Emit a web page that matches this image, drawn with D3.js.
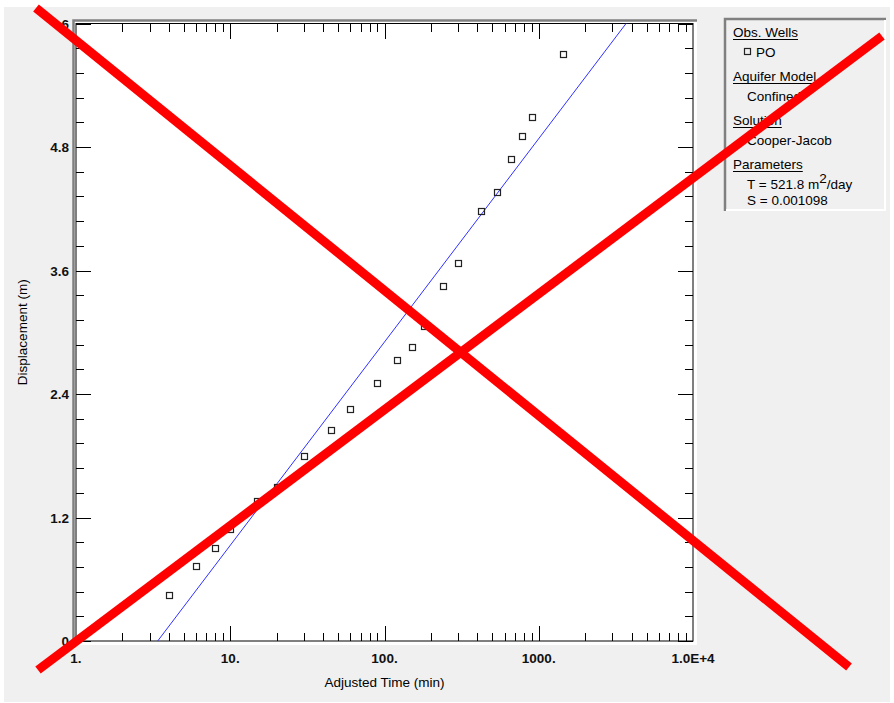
<!DOCTYPE html>
<html>
<head>
<meta charset="utf-8">
<script src="https://cdn.jsdelivr.net/npm/d3@7"></script>
<style>
  html, body { margin: 0; padding: 0; background: #ffffff; }
  svg { display: block; font-family: "Liberation Sans", Arial, sans-serif; }
</style>
</head>
<body>
<svg id="chart" width="894" height="703"></svg>
<script>
// Observation well PO: elapsed time (min) and displacement (m)
const times = [4, 6, 8, 10, 15, 20, 30, 45, 60, 90, 120, 150, 180, 240, 300, 420, 540, 660, 780, 900, 1440];
const displacement = [0.45, 0.73, 0.90, 1.09, 1.36, 1.50, 1.80, 2.05, 2.25, 2.51, 2.73, 2.86, 3.06, 3.45, 3.67, 4.18, 4.36, 4.68, 4.91, 5.09, 5.70];

// Cooper-Jacob straight-line fit: zero-displacement intercept (min) and slope (m per log cycle)
const fitT0 = 3.385;
const fitSlope = 1.976;

// Axis ticks
const xMajorTicks = [1, 10, 100, 1000, 10000];
const xTickLabels = ["1.", "10.", "100.", "1000.", "1.0E+4"];
const yMajorTicks = [0, 1.2, 2.4, 3.6, 4.8, 6];
const yTickLabels = ["0", "1.2", "2.4", "3.6", "4.8", "6"];
const yMinorStep = 0.24;

// Legend panel
const legendSections = [
  { title: "Obs. Wells", lines: [] , marker: "PO" },
  { title: "Aquifer Model", lines: ["Confined"] },
  { title: "Solution", lines: ["Cooper-Jacob"] },
  { title: "Parameters", lines: ["T = 521.8 m|2|/day", "S = 0.001098"] }
];

const svg = d3.select("#chart");
const W = 894, H = 703;
const plot = { left: 76, right: 693, top: 23.5, bottom: 641 };

const x = d3.scaleLog().domain([1, 10000]).range([plot.left, plot.right]);
const y = d3.scaleLinear().domain([0, 6]).range([plot.bottom, plot.top]);

// Window background
svg.append("rect").attr("x", 4).attr("y", 7).attr("width", 886).attr("height", 695).attr("fill", "#f0f0f0");

// Sunken plot frame
svg.append("rect").attr("x", 73).attr("y", 20).attr("width", 624).attr("height", 625).attr("fill", "#ffffff");
svg.append("path").attr("d", `M${73.5},${645} V${20.5} H${697}`).attr("fill", "none").attr("stroke", "#808080").attr("stroke-width", 2.5);
svg.append("rect").attr("x", plot.left).attr("y", plot.top).attr("width", plot.right - plot.left).attr("height", plot.bottom - plot.top)
  .attr("fill", "#ffffff").attr("stroke", "#000").attr("stroke-width", 1);

const ticks = svg.append("g").attr("stroke", "#000").attr("stroke-width", 1).attr("shape-rendering", "crispEdges");
const majorLen = 15, minorLen = 8;

// Log x ticks (bottom and top)
const xMinor = [];
for (let d = 1; d < 10000; d *= 10) for (let k = 2; k <= 9; k++) xMinor.push(d * k);
xMinor.forEach(v => {
  const px = Math.round(x(v)) + 0.5;
  ticks.append("line").attr("x1", px).attr("x2", px).attr("y1", plot.bottom).attr("y2", plot.bottom - minorLen);
  ticks.append("line").attr("x1", px).attr("x2", px).attr("y1", plot.top).attr("y2", plot.top + minorLen);
});
xMajorTicks.slice(1, -1).forEach(v => {
  const px = Math.round(x(v)) + 0.5;
  ticks.append("line").attr("x1", px).attr("x2", px).attr("y1", plot.bottom).attr("y2", plot.bottom - majorLen);
  ticks.append("line").attr("x1", px).attr("x2", px).attr("y1", plot.top).attr("y2", plot.top + majorLen);
});

// Linear y ticks (left and right)
const yMinor = d3.range(0, 6 + 1e-9, yMinorStep);
yMinor.forEach(v => {
  const py = Math.round(y(v)) + 0.5;
  const isMajor = yMajorTicks.some(m => Math.abs(m - v) < 1e-6);
  const len = isMajor ? majorLen : minorLen;
  ticks.append("line").attr("x1", plot.left).attr("x2", plot.left + len).attr("y1", py).attr("y2", py);
  ticks.append("line").attr("x1", plot.right).attr("x2", plot.right - len).attr("y1", py).attr("y2", py);
});

// Tick labels
const labelFont = 13.5;
xMajorTicks.forEach((v, i) => {
  svg.append("text").attr("x", x(v)).attr("y", 663).attr("text-anchor", "middle")
    .attr("font-size", labelFont).attr("font-weight", "bold").attr("fill", "#111").text(xTickLabels[i]);
});
yMajorTicks.forEach((v, i) => {
  svg.append("text").attr("x", 69).attr("y", y(v) + 5).attr("text-anchor", "end")
    .attr("font-size", labelFont).attr("font-weight", "bold").attr("fill", "#111").text(yTickLabels[i]);
});

// Axis titles
svg.append("text").attr("x", (plot.left + plot.right) / 2).attr("y", 687).attr("text-anchor", "middle")
  .attr("font-size", labelFont).attr("fill", "#000").text("Adjusted Time (min)");
svg.append("text").attr("transform", `translate(27,${(plot.top + plot.bottom) / 2}) rotate(-90)`)
  .attr("text-anchor", "middle").attr("font-size", labelFont).attr("fill", "#000").text("Displacement (m)");

// Clip for the fitted line
svg.append("clipPath").attr("id", "plotClip").append("rect")
  .attr("x", plot.left).attr("y", plot.top).attr("width", plot.right - plot.left).attr("height", plot.bottom - plot.top);

const fitAt = t => fitSlope * Math.log10(t / fitT0);
const fitTimes = [fitT0, fitT0 * Math.pow(10, 6.2 / fitSlope)];
svg.append("path").attr("clip-path", "url(#plotClip)")
  .attr("d", d3.line().x(t => x(t)).y(t => y(fitAt(t)))(fitTimes))
  .attr("fill", "none").attr("stroke", "#3030ff").attr("stroke-width", 1);

// Observed data
const sq = 6;
svg.append("g").selectAll("rect").data(times).join("rect")
  .attr("x", (t) => Math.round(x(t) - sq / 2) + 0.5)
  .attr("y", (t, i) => Math.round(y(displacement[i]) - sq / 2) + 0.5)
  .attr("width", sq).attr("height", sq)
  .attr("fill", "none").attr("stroke", "#222").attr("stroke-width", 1.2);

// Legend panel
const lg = { x: 724, y: 18, w: 162, h: 193 };
svg.append("rect").attr("x", lg.x).attr("y", lg.y).attr("width", lg.w).attr("height", lg.h).attr("fill", "#f0f0f0");
svg.append("path").attr("d", `M${lg.x + 1},${lg.y + lg.h} V${lg.y + 1} H${lg.x + lg.w}`)
  .attr("fill", "none").attr("stroke", "#808080").attr("stroke-width", 2.5);
svg.append("path").attr("d", `M${lg.x + 2},${lg.y + lg.h - 1} H${lg.x + lg.w - 1} V${lg.y + 2}`)
  .attr("fill", "none").attr("stroke", "#ffffff").attr("stroke-width", 2);

const titleBaselines = [37, 81, 125, 169];
const lineBaselines = [[57], [101], [145], [189, 205]];
legendSections.forEach((sec, si) => {
  const t = svg.append("text").attr("x", 733).attr("y", titleBaselines[si])
    .attr("font-size", labelFont).attr("fill", "#000").text(sec.title);
  const w = t.node().getComputedTextLength();
  svg.append("line").attr("x1", 733).attr("x2", 733 + w).attr("y1", titleBaselines[si] + 2.5).attr("y2", titleBaselines[si] + 2.5)
    .attr("stroke", "#000").attr("stroke-width", 1);
  if (sec.marker) {
    const by = lineBaselines[si][0];
    svg.append("rect").attr("x", 744.5).attr("y", by - 8.5).attr("width", 6).attr("height", 6)
      .attr("fill", "none").attr("stroke", "#222").attr("stroke-width", 1.2);
    svg.append("text").attr("x", 756).attr("y", by).attr("font-size", labelFont).attr("fill", "#000").text(sec.marker);
  }
  sec.lines.forEach((ln, li) => {
    const parts = ln.split("|");
    const tx = svg.append("text").attr("x", 747).attr("y", lineBaselines[si][li]).attr("font-size", labelFont).attr("fill", "#000");
    parts.forEach((p, pi) => {
      if (pi === 1) tx.append("tspan").attr("dy", -6).attr("font-size", 13.5).text(p);
      else if (pi === 2) tx.append("tspan").attr("dy", 6).text(p);
      else tx.append("tspan").text(p);
    });
  });
});

// Red cross-out drawn over the whole figure
const cross = [
  [[36 / W, 8 / H], [849 / W, 667 / H]],
  [[38 / W, 670 / H], [882 / W, 36 / H]]
];
svg.append("g").selectAll("line").data(cross).join("line")
  .attr("x1", d => d[0][0] * W).attr("y1", d => d[0][1] * H)
  .attr("x2", d => d[1][0] * W).attr("y2", d => d[1][1] * H)
  .attr("stroke", "#ff0000").attr("stroke-width", 9).attr("stroke-linecap", "butt");
</script>
</body>
</html>
